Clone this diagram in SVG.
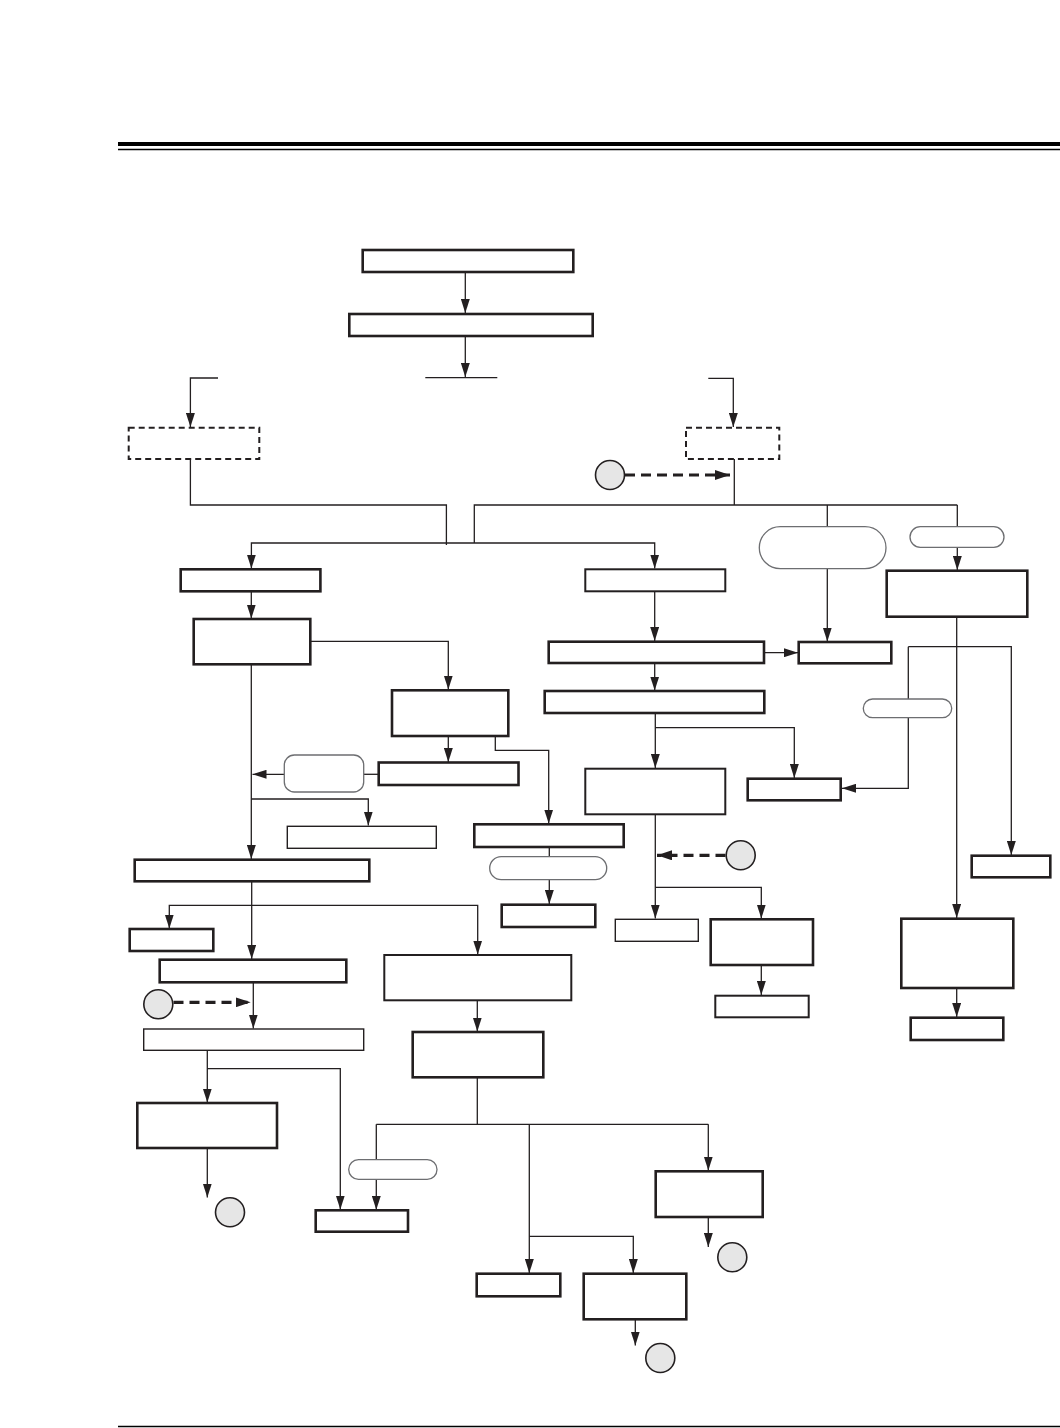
<svg xmlns="http://www.w3.org/2000/svg" width="1060" height="1428" viewBox="0 0 1060 1428">
<style>
.thick{fill:#fff;stroke:#231f20;stroke-width:2.6}
.med{fill:#fff;stroke:#231f20;stroke-width:2}
.thin{fill:#fff;stroke:#231f20;stroke-width:1.4}
.dash{fill:#fff;stroke:#231f20;stroke-width:2;stroke-dasharray:6 4}
.pill{fill:#fff;stroke:#6d6e71;stroke-width:1.3}
.circ{fill:#e6e6e6;stroke:#231f20;stroke-width:1.6}
.ln{fill:none;stroke:#231f20;stroke-width:1.3}
.arr{fill:none;stroke:#231f20;stroke-width:1.3;marker-end:url(#ah)}
.darr{fill:none;stroke:#231f20;stroke-width:3.2;stroke-dasharray:10 6;marker-end:url(#ahd)}
</style>
<defs>
<marker id="ah" viewBox="0 0 14 9" refX="14" refY="4.5" markerWidth="14" markerHeight="9" markerUnits="userSpaceOnUse" orient="auto">
<path d="M0,0 L14,4.5 L0,9 z" fill="#231f20"/>
</marker>
<marker id="ahd" viewBox="0 0 15 10" refX="15" refY="5" markerWidth="15" markerHeight="10" markerUnits="userSpaceOnUse" orient="auto">
<path d="M0,0 L15,5 L0,10 z" fill="#231f20"/>
</marker>
</defs>
<rect width="1060" height="1428" fill="#fff"/>
<g id="header">
<rect x="118" y="142" width="942" height="4" fill="#000"/>
<line x1="118" y1="149.5" x2="1060" y2="149.5" stroke="#000" stroke-width="1.5"/>
<line x1="118" y1="1426.5" x2="1060" y2="1426.5" stroke="#000" stroke-width="1.5"/>
</g>
<g id="connectors">
<path class="arr" d="M465.3,272 V313"/>
<path class="arr" d="M465.3,336 V377"/>
<path class="ln" d="M425.3,377.7 H497.3"/>
<path class="arr" d="M218,378 H190.4 V427"/>
<path class="arr" d="M708.3,378.3 H733.3 V427"/>
<path class="darr" d="M625,475 H730"/>
<path class="ln" d="M734.3,459 V505"/>
<path class="ln" d="M474.3,543 V505 H957.3"/>
<path class="ln" d="M190.4,459 V505 H446.4 V545"/>
<path class="arr" d="M446.4,543 H251.4 V568.5"/>
<path class="arr" d="M446.4,543 H654.7 V568.5"/>
<path class="ln" d="M827.3,505 V526.7"/>
<path class="ln" d="M957.3,505 V526.7"/>
<path class="arr" d="M957.3,547.3 V570"/>
<path class="arr" d="M827.3,568.7 V641.5"/>
<path class="arr" d="M251.3,591.3 V618.5"/>
<path class="arr" d="M654.7,591.3 V641"/>
<path class="arr" d="M764,652.7 H798"/>
<path class="arr" d="M654.7,663 V690.5"/>
<path class="arr" d="M655.3,713 V768"/>
<path class="arr" d="M655.3,727.7 H794.3 V778"/>
<path class="arr" d="M956.7,616.7 V918"/>
<path class="arr" d="M908.3,646.7 H1011.3 V855"/>
<path class="ln" d="M908.3,646.7 V699"/>
<path class="arr" d="M908.3,717.7 V788.3 H842"/>
<path class="darr" d="M725.5,855.3 H657"/>
<path class="arr" d="M655.3,814.3 V918.5"/>
<path class="arr" d="M655.3,887.3 H761.3 V918.5"/>
<path class="arr" d="M761.3,965 V995"/>
<path class="arr" d="M956.7,988 V1017"/>
<path class="arr" d="M310.3,641.3 H448.3 V689.5"/>
<path class="arr" d="M448.3,736 V762"/>
<path class="arr" d="M495.3,736 V750.3 H548.7 V823.5"/>
<path class="ln" d="M378.7,774.3 H363.7"/>
<path class="arr" d="M284.3,774.3 H252.5"/>
<path class="arr" d="M251.3,664.3 V859"/>
<path class="arr" d="M251.3,799 H368.3 V825.5"/>
<path class="ln" d="M549.3,847 V856.7"/>
<path class="arr" d="M549.3,879.7 V904"/>
<path class="arr" d="M251.7,881.3 V959"/>
<path class="arr" d="M251.7,905.3 H169.3 V928.5"/>
<path class="arr" d="M251.7,905.3 H477.7 V954.5"/>
<path class="darr" d="M173.5,1002.3 H250.7"/>
<path class="arr" d="M253.3,982.3 V1028.5"/>
<path class="arr" d="M207.3,1050.3 V1102.5"/>
<path class="arr" d="M207.3,1068.7 H340.3 V1209.5"/>
<path class="arr" d="M207.3,1148 V1197.5"/>
<path class="arr" d="M477.3,1000.3 V1031.5"/>
<path class="ln" d="M477.3,1077.3 V1124.3"/>
<path class="ln" d="M376.3,1124.3 H708.3"/>
<path class="arr" d="M708.3,1124.3 V1170.5"/>
<path class="ln" d="M376.3,1124.3 V1159.7"/>
<path class="arr" d="M376.3,1179.3 V1209.8"/>
<path class="arr" d="M529.3,1124.3 V1273"/>
<path class="arr" d="M529.3,1236.3 H633.3 V1273"/>
<path class="arr" d="M708.3,1217 V1247"/>
<path class="arr" d="M635.3,1319.3 V1345.5"/>
</g>
<g id="n1"><rect class="thick" x="362.7" y="250" width="210.6" height="22"/></g>
<g id="n2"><rect class="thick" x="349.3" y="314" width="243.4" height="22"/></g>
<g id="n3"><rect class="dash" x="128.7" y="427.7" width="130.6" height="31.3"/></g>
<g id="n4"><rect class="dash" x="686" y="427.7" width="93.3" height="31.3"/></g>
<g id="c1"><circle class="circ" cx="610" cy="475" r="14.5"/></g>
<g id="n5"><rect class="thick" x="180.7" y="569.3" width="139.7" height="22"/></g>
<g id="n6"><rect class="med" x="585.3" y="569.3" width="140" height="22"/></g>
<g id="p1"><rect class="pill" x="759.3" y="526.7" width="126.7" height="42" rx="21"/></g>
<g id="p2"><rect class="pill" x="910" y="526.7" width="94" height="20.6" rx="10.3"/></g>
<g id="n7"><rect class="thick" x="886.7" y="570.7" width="140.6" height="46"/></g>
<g id="n8"><rect class="thick" x="193.7" y="619" width="116.6" height="45.3"/></g>
<g id="n9"><rect class="thick" x="392" y="690.3" width="116.3" height="45.7"/></g>
<g id="n10"><rect class="thick" x="378.7" y="762.5" width="139.8" height="22.5"/></g>
<g id="p3"><rect class="pill" x="284.3" y="755" width="79.4" height="37" rx="10"/></g>
<g id="n11"><rect class="thin" x="287.3" y="826.3" width="149" height="22"/></g>
<g id="n12"><rect class="thick" x="474.3" y="824.3" width="149.4" height="22.7"/></g>
<g id="p4"><rect class="pill" x="489.7" y="856.7" width="117" height="23" rx="11.5"/></g>
<g id="n13"><rect class="thick" x="501.7" y="904.7" width="93.6" height="22.3"/></g>
<g id="n14"><rect class="thick" x="548.7" y="641.7" width="215.3" height="21.3"/></g>
<g id="n15"><rect class="thick" x="798.7" y="642" width="92.6" height="21.3"/></g>
<g id="n16"><rect class="thick" x="544.7" y="691" width="219.6" height="22"/></g>
<g id="n17"><rect class="med" x="585.3" y="768.7" width="140" height="45.6"/></g>
<g id="n18"><rect class="thick" x="747.7" y="778.7" width="93" height="21.6"/></g>
<g id="p5"><rect class="pill" x="863.3" y="699" width="88.4" height="18.7" rx="9.3"/></g>
<g id="n19"><rect class="thick" x="971.7" y="855.7" width="78.6" height="21.6"/></g>
<g id="c2"><circle class="circ" cx="740.7" cy="855.3" r="14.5"/></g>
<g id="n20"><rect class="thin" x="615.3" y="919.3" width="83" height="22"/></g>
<g id="n21"><rect class="thick" x="710.7" y="919.3" width="102.3" height="45.7"/></g>
<g id="n22"><rect class="med" x="715.3" y="995.7" width="93.4" height="21.6"/></g>
<g id="n23"><rect class="thick" x="901.3" y="918.7" width="112" height="69.3"/></g>
<g id="n24"><rect class="thick" x="910.7" y="1017.7" width="92.6" height="22.3"/></g>
<g id="n25"><rect class="thick" x="134.7" y="859.7" width="234.6" height="21.6"/></g>
<g id="n26"><rect class="thick" x="129.7" y="929" width="83.6" height="22"/></g>
<g id="n27"><rect class="thick" x="159.7" y="959.7" width="186.6" height="22.6"/></g>
<g id="c3"><circle class="circ" cx="158.3" cy="1004.3" r="14.5"/></g>
<g id="n28"><rect class="thin" x="143.7" y="1029" width="220" height="21.3"/></g>
<g id="n29"><rect class="thick" x="137.3" y="1103" width="139.7" height="45"/></g>
<g id="c4"><circle class="circ" cx="230" cy="1212.3" r="14.5"/></g>
<g id="n30"><rect class="med" x="384.3" y="955" width="187" height="45.3"/></g>
<g id="n31"><rect class="thick" x="412.7" y="1032" width="130.6" height="45.3"/></g>
<g id="p6"><rect class="pill" x="348.7" y="1159.7" width="88.3" height="19.6" rx="9.8"/></g>
<g id="n32"><rect class="thick" x="315.7" y="1210.3" width="92.3" height="21.4"/></g>
<g id="n33"><rect class="thick" x="655.7" y="1171.3" width="107" height="45.7"/></g>
<g id="c5"><circle class="circ" cx="732.3" cy="1257.3" r="14.5"/></g>
<g id="n34"><rect class="thick" x="476.7" y="1273.7" width="83.6" height="22.6"/></g>
<g id="n35"><rect class="thick" x="583.7" y="1273.7" width="102.6" height="45.6"/></g>
<g id="c6"><circle class="circ" cx="660.3" cy="1358" r="14.5"/></g>
</svg>
